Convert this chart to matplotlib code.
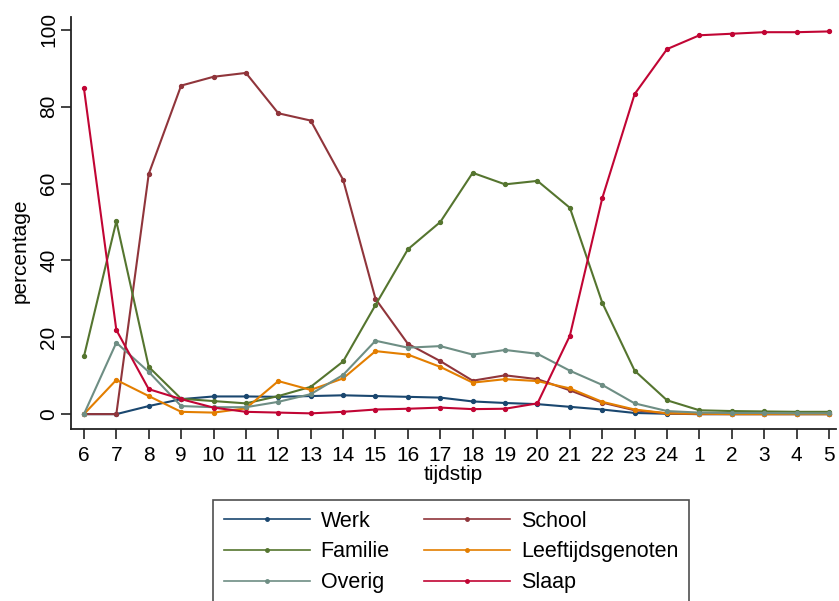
import numpy as np
import matplotlib
matplotlib.use("Agg")
from matplotlib import pyplot as plt

plt.rcParams['font.family'] = ['Liberation Sans', 'DejaVu Sans']

uren = ['6', '7', '8', '9', '10', '11', '12', '13', '14', '15', '16', '17',
        '18', '19', '20', '21', '22', '23', '24', '1', '2', '3', '4', '5']

werk = [0, 0, 2.1, 3.9, 4.6, 4.6, 4.5, 4.7, 4.9, 4.7, 4.5, 4.3,
        3.3, 2.9, 2.6, 1.9, 1.2, 0.3, 0.1, 0, 0, 0, 0, 0]
school = [0, 0, 62.5, 85.5, 87.8, 88.8, 78.3, 76.4, 61.0, 30.0, 18.3, 13.8,
          8.7, 10.1, 9.1, 6.2, 3.0, 1.0, 0.2, 0, 0, 0, 0, 0]
familie = [15.0, 50.2, 12.3, 4.0, 3.4, 2.8, 4.7, 7.1, 13.7, 28.4, 42.9, 50.0,
           62.8, 59.8, 60.7, 53.7, 29.0, 11.3, 3.6, 1.0, 0.8, 0.7, 0.6, 0.6]
leeftijd = [0, 8.9, 4.7, 0.6, 0.4, 1.5, 8.6, 6.3, 9.3, 16.4, 15.5, 12.3,
            8.2, 9.1, 8.6, 6.7, 3.2, 1.2, 0.2, 0.1, 0, 0, 0, 0]
overig = [0, 18.6, 11.0, 2.1, 1.8, 1.8, 3.2, 5.2, 10.2, 19.1, 17.3, 17.7,
          15.5, 16.7, 15.7, 11.3, 7.6, 2.8, 0.8, 0.4, 0.3, 0.3, 0.2, 0.2]
slaap = [84.8, 21.9, 6.5, 3.9, 1.7, 0.6, 0.4, 0.2, 0.6, 1.2, 1.4, 1.7,
         1.3, 1.4, 2.8, 20.4, 56.2, 83.3, 95.0, 98.6, 99.0, 99.4, 99.4, 99.6]

reeksen = [("Werk", werk, "#1a476f"),
           ("School", school, "#90353b"),
           ("Familie", familie, "#55752f"),
           ("Leeftijdsgenoten", leeftijd, "#e37e00"),
           ("Overig", overig, "#6e8e84"),
           ("Slaap", slaap, "#c10534")]

fig = plt.figure(figsize=(8.39, 6.01), dpi=100)
ax = fig.add_axes([0.0846, 0.286, 0.912, 0.686])

x = np.arange(len(uren))
lijnen = {}
for naam, waarden, kleur in reeksen:
    lijnen[naam], = ax.plot(x, waarden, color=kleur, lw=1.5, marker='o',
                            markersize=2.8, label=naam)

ax.set_xlim(-0.4, 23.22)
ax.set_ylim(-3.9, 103.4)
ax.set_xticks(x)
ax.set_xticklabels(uren)
ax.set_yticks([0, 20, 40, 60, 80, 100])
ax.set_yticklabels(['0', '20', '40', '60', '80', '100'], rotation=90, va='center')

for s in ['top', 'right']:
    ax.spines[s].set_visible(False)
for s in ['left', 'bottom']:
    ax.spines[s].set_linewidth(1.3)
    ax.spines[s].set_color('#222222')
ax.tick_params(axis='both', direction='out', length=7, width=1.2, labelsize=15, color='#222222')
ax.tick_params(axis='x', pad=5)
ax.tick_params(axis='y', pad=2)

ax.set_xlabel('tijdstip', fontsize=15, labelpad=0)
ax.set_ylabel('percentage', fontsize=15, va='center')
ax.yaxis.set_label_coords(-0.067, 0.432)

# rij-volgorde zoals in het origineel (matplotlib vult kolom voor kolom)
volgorde = ["Werk", "Familie", "Overig", "School", "Leeftijdsgenoten", "Slaap"]
leg = fig.legend([lijnen[n] for n in volgorde], volgorde,
                 loc='upper left', bbox_to_anchor=(0.254, 0.168), ncol=2,
                 fontsize=15.5, frameon=True, fancybox=False, edgecolor='#222222',
                 handlelength=4.0, handletextpad=0.5, columnspacing=1.6,
                 labelspacing=0.45, borderpad=0.5, borderaxespad=0, numpoints=1)
leg.get_frame().set_linewidth(1.2)
for h in leg.legend_handles:
    h.set_linewidth(1.2)
    h.set_markersize(2.5)

fig.savefig('out.png', dpi=100)
